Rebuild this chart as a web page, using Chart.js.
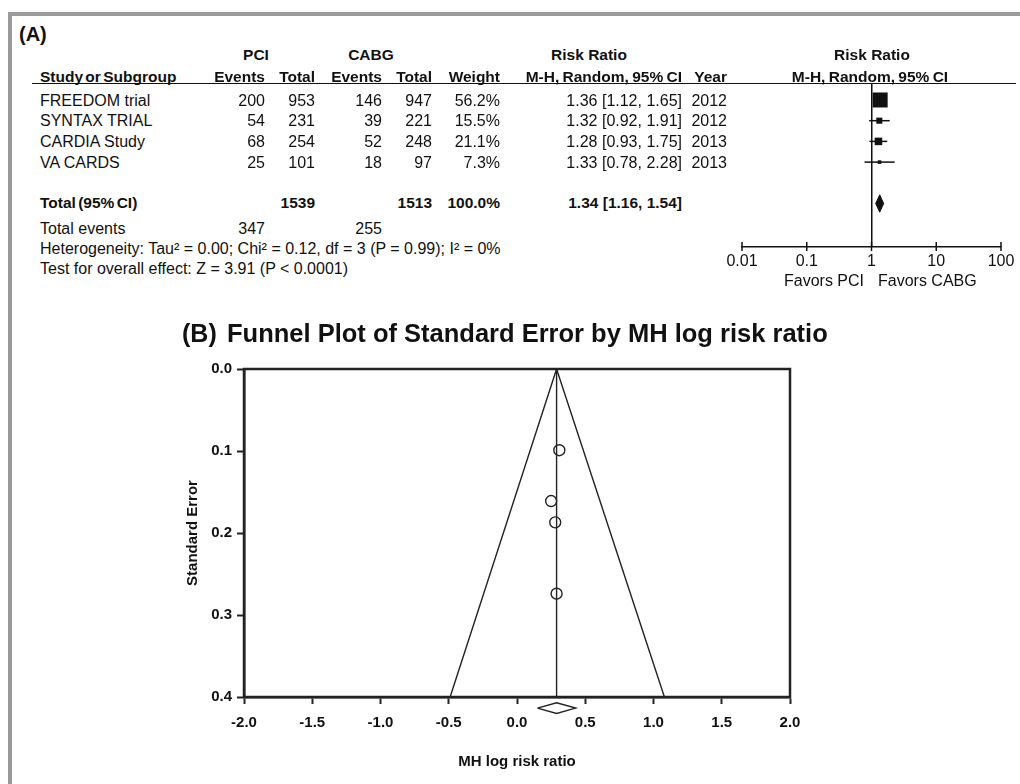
<!DOCTYPE html>
<html>
<head>
<meta charset="utf-8">
<script src="https://cdn.jsdelivr.net/npm/chart.js@4.4.1/dist/chart.umd.min.js"></script>
<style>
  body { margin: 0; background: #fff; }
  #page { position: relative; width: 1020px; height: 784px; overflow: hidden; background: #fff;
          font-family: "Liberation Sans", Arial, sans-serif; color: #111; }
  .frame { position: absolute; background: #9a9a9a; }
  .t { position: absolute; white-space: nowrap; font-size: 16px; line-height: 18px; }
  .b { font-weight: bold; }
  canvas { position: absolute; }
</style>
</head>
<body>
<div id="page">
  <div class="frame" style="left:8px; top:12px; width:1012px; height:4px;"></div>
  <div class="frame" style="left:8px; top:12px; width:4px; height:772px;"></div>
  <div style="position:absolute; left:32px; top:83px; width:984px; height:0; border-top:1.5px solid #111;"></div>
  <canvas id="forest" width="320" height="240" style="left:700px; top:60px;"></canvas>
  <canvas id="funnel" width="700" height="484" style="left:150px; top:300px;"></canvas>
</div>
<script>
// panel A: study table
const studies = ['FREEDOM trial', 'SYNTAX TRIAL', 'CARDIA Study', 'VA CARDS'];
const pciEvents = [200, 54, 68, 25];
const pciTotal = [953, 231, 254, 101];
const cabgEvents = [146, 39, 52, 18];
const cabgTotal = [947, 221, 248, 97];
const weights = [56.2, 15.5, 21.1, 7.3];
const riskRatio = [1.36, 1.32, 1.28, 1.33];
const rrLow = [1.12, 0.92, 0.93, 0.78];
const rrHigh = [1.65, 1.91, 1.75, 2.28];
const years = [2012, 2012, 2013, 2013];

const totalPci = 1539, totalCabg = 1513;
const eventsPci = 347, eventsCabg = 255;
const pooledRR = [1.34, 1.16, 1.54];   // estimate, low, high
const forestTicks = [0.01, 0.1, 1, 10, 100];

// panel B: funnel plot
const logRR = [0.31, 0.28, 0.25, 0.29];
const stdErr = [0.099, 0.187, 0.161, 0.274];
const pooledLogRR = 0.29;
const funnelBase = [-0.49, 1.08];
const pooledLogCI = [0.15, 0.43];
const seMax = 0.4;
const seTicks = [0, 0.1, 0.2, 0.3, 0.4];
const lrrTicks = [-2, -1.5, -1, -0.5, 0, 0.5, 1, 1.5, 2];

Chart.defaults.font.family = '"Liberation Sans", Arial, sans-serif';
Chart.defaults.color = '#111';

const page = document.getElementById('page');

function put(text, x, y, align, opts) {
    opts = opts || {};
    const el = document.createElement('div');
    el.className = 't' + (opts.bold ? ' b' : '');
    const size = opts.size || (opts.bold ? 15.5 : 16);
    el.style.fontSize = size + 'px';
    const lh = Math.round(size * 1.2);
    el.style.lineHeight = lh + 'px';
    el.style.top = (y - lh / 2) + 'px';
    if (opts.wordSpacing) el.style.wordSpacing = opts.wordSpacing + 'px';
    if (align === 'right') {
        el.style.right = (1020 - x) + 'px';
    } else if (align === 'center') {
        el.style.left = x + 'px';
        el.style.transform = 'translateX(-50%)';
    } else {
        el.style.left = x + 'px';
    }
    el.textContent = text;
    page.appendChild(el);
}

// row positions share the pitch of the forest chart's y scale
const rowTop = 100, rowPitch = 20.7;
const rowY = i => rowTop + i * rowPitch;

const col = { pciE: 265, pciT: 315, cabgE: 382, cabgT: 432, weight: 500, ci: 682, year: 727 };

put('(A)', 19, 34, 'left', { bold: true, size: 20 });
put('PCI', 256, 54, 'center', { bold: true });
put('CABG', 371, 54, 'center', { bold: true });
put('Risk Ratio', 589, 54, 'center', { bold: true });
put('Risk Ratio', 872, 54, 'center', { bold: true });

put('Study or Subgroup', 40, 76, 'left', { bold: true, wordSpacing: -2 });
put('Events', col.pciE, 76, 'right', { bold: true });
put('Total', col.pciT, 76, 'right', { bold: true });
put('Events', col.cabgE, 76, 'right', { bold: true });
put('Total', col.cabgT, 76, 'right', { bold: true });
put('Weight', col.weight, 76, 'right', { bold: true });
put('M-H, Random, 95% CI', col.ci, 76, 'right', { bold: true, wordSpacing: -1 });
put('Year', col.year, 76, 'right', { bold: true });
put('M-H, Random, 95% CI', 870, 76, 'center', { bold: true, wordSpacing: -1 });

const f2 = v => v.toFixed(2);
studies.forEach((s, i) => {
    const y = rowY(i);
    put(s, 40, y, 'left');
    put(String(pciEvents[i]), col.pciE, y, 'right');
    put(String(pciTotal[i]), col.pciT, y, 'right');
    put(String(cabgEvents[i]), col.cabgE, y, 'right');
    put(String(cabgTotal[i]), col.cabgT, y, 'right');
    put(weights[i].toFixed(1) + '%', col.weight, y, 'right');
    put(f2(riskRatio[i]) + ' [' + f2(rrLow[i]) + ', ' + f2(rrHigh[i]) + ']', col.ci, y, 'right');
    put(String(years[i]), col.year, y, 'right');
});

put('Total (95% CI)', 40, 202, 'left', { bold: true, wordSpacing: -2 });
put(String(totalPci), col.pciT, 202, 'right', { bold: true });
put(String(totalCabg), col.cabgT, 202, 'right', { bold: true });
put('100.0%', col.weight, 202, 'right', { bold: true });
put(f2(pooledRR[0]) + ' [' + f2(pooledRR[1]) + ', ' + f2(pooledRR[2]) + ']', col.ci, 202, 'right', { bold: true });

put('Total events', 40, 228, 'left');
put(String(eventsPci), col.pciE, 228, 'right');
put(String(eventsCabg), col.cabgE, 228, 'right');
put('Heterogeneity: Tau\u00b2 = 0.00; Chi\u00b2 = 0.12, df = 3 (P = 0.99); I\u00b2 = 0%', 40, 248, 'left');
put('Test for overall effect: Z = 3.91 (P < 0.0001)', 40, 268, 'left');

put('Favors PCI', 864, 280, 'right');
put('Favors CABG', 878, 280, 'left');

put('(B)', 182, 333, 'left', { bold: true, size: 25 });
put('Funnel Plot of Standard Error by MH log risk ratio', 227, 333, 'left', { bold: true, size: 25.5 });

// forest plot (panel A, right side)
const totalRow = studies.length + 1;
const diamondHalf = 0.42;
const side = w => 15 * Math.pow(w / Math.max(...weights), 0.7);

const forestData = [];
studies.forEach((s, i) => {
    forestData.push({
        data: [{ x: rrLow[i], y: i }, { x: rrHigh[i], y: i }],
        showLine: true, borderColor: '#111', borderWidth: 1.5, pointRadius: 0
    });
});
forestData.push({
    data: riskRatio.map((v, i) => ({ x: v, y: i })),
    pointStyle: 'rect',
    pointRadius: weights.map(w => side(w) / Math.SQRT2),
    backgroundColor: '#111', borderWidth: 0
});
forestData.push({
    data: [
        { x: pooledRR[1], y: totalRow },
        { x: pooledRR[0], y: totalRow - diamondHalf },
        { x: pooledRR[2], y: totalRow },
        { x: pooledRR[0], y: totalRow + diamondHalf },
        { x: pooledRR[1], y: totalRow }
    ],
    showLine: true, fill: 'shape', backgroundColor: '#111',
    borderColor: '#111', borderWidth: 1, pointRadius: 0
});

const forestTickMarks = {
    id: 'forestTickMarks',
    afterDraw(chart) {
        const xs = chart.scales.x, c = chart.ctx;
        c.save();
        c.strokeStyle = '#111';
        c.lineWidth = 1.5;
        xs.ticks.forEach(t => {
            const px = xs.getPixelForValue(t.value);
            c.beginPath();
            c.moveTo(px, xs.top - 5);
            c.lineTo(px, xs.top + 4);
            c.stroke();
        });
        c.restore();
    }
};

new Chart(document.getElementById('forest'), {
    type: 'scatter',
    data: { datasets: forestData },
    options: {
        responsive: false, animation: false, devicePixelRatio: 1,
        layout: { padding: { left: 42, right: 19, top: 23, bottom: 0 } },
        plugins: { legend: { display: false }, tooltip: { enabled: false } },
        scales: {
            x: {
                type: 'logarithmic', min: forestTicks[0], max: forestTicks[forestTicks.length - 1],
                afterBuildTicks: s => { s.ticks = forestTicks.map(v => ({ value: v })); },
                afterFit: s => { s.height = 53; },
                ticks: { callback: v => String(v), font: { size: 16 }, color: '#111', padding: 5, maxRotation: 0, autoSkip: false },
                grid: {
                    drawTicks: false,
                    color: c => (c.tick && c.tick.value === 1 ? '#111' : 'rgba(0,0,0,0)'),
                    lineWidth: 1.5
                },
                border: { display: true, color: '#111', width: 1.5 }
            },
            y: {
                type: 'linear', reverse: true,
                min: -0.82, max: 7.1,
                display: false
            }
        }
    },
    plugins: [forestTickMarks]
});

// funnel plot (panel B)
const plotBox = {
    id: 'plotBox',
    afterDraw(chart) {
        const a = chart.chartArea, c = chart.ctx;
        c.save();
        c.strokeStyle = '#222';
        c.lineWidth = 2.5;
        c.strokeRect(a.left, a.top, a.right - a.left, a.bottom - a.top);
        c.restore();
    }
};

const diamondTop = 0.407, diamondMid = 0.4135, diamondBottom = 0.42;

new Chart(document.getElementById('funnel'), {
    type: 'scatter',
    data: {
        datasets: [
            {
                data: [{ x: funnelBase[0], y: seMax }, { x: pooledLogRR, y: 0 }, { x: funnelBase[1], y: seMax }],
                showLine: true, borderColor: '#222', borderWidth: 1.4, pointRadius: 0
            },
            {
                data: [{ x: pooledLogRR, y: 0 }, { x: pooledLogRR, y: seMax }],
                showLine: true, borderColor: '#222', borderWidth: 1.4, pointRadius: 0
            },
            {
                data: logRR.map((v, i) => ({ x: v, y: stdErr[i] })),
                pointStyle: 'circle', pointRadius: 5.5,
                borderColor: '#222', borderWidth: 1.4, backgroundColor: 'rgba(0,0,0,0)'
            },
            {
                data: [
                    { x: pooledLogCI[0], y: diamondMid },
                    { x: pooledLogRR, y: diamondTop },
                    { x: pooledLogCI[1], y: diamondMid },
                    { x: pooledLogRR, y: diamondBottom },
                    { x: pooledLogCI[0], y: diamondMid }
                ],
                showLine: true, borderColor: '#222', borderWidth: 1.4, pointRadius: 0, clip: false
            }
        ]
    },
    options: {
        responsive: false, animation: false, devicePixelRatio: 1,
        layout: { padding: { left: 0, right: 60, top: 69, bottom: 0 } },
        plugins: { legend: { display: false }, tooltip: { enabled: false } },
        scales: {
            x: {
                type: 'linear', min: lrrTicks[0], max: lrrTicks[lrrTicks.length - 1],
                afterBuildTicks: s => { s.ticks = lrrTicks.map(v => ({ value: v })); },
                afterFit: s => { s.height = 87; },
                ticks: { callback: v => v.toFixed(1), font: { size: 15, weight: 'bold' }, color: '#111', padding: 10, maxRotation: 0, autoSkip: false },
                grid: { drawOnChartArea: false, tickLength: 7, tickWidth: 2, tickColor: '#222' },
                border: { display: true, color: '#222', width: 2.5 },
                title: { display: true, text: 'MH log risk ratio', font: { size: 15, weight: 'bold' }, color: '#111', padding: { top: 0, bottom: 13 } }
            },
            y: {
                type: 'linear', min: seTicks[0], max: seMax, reverse: true,
                afterBuildTicks: s => { s.ticks = seTicks.map(v => ({ value: v })); },
                afterFit: s => { s.width = 94; },
                ticks: { callback: v => v.toFixed(1), font: { size: 15, weight: 'bold' }, color: '#111', padding: 5, autoSkip: false },
                grid: { drawOnChartArea: false, tickLength: 7, tickWidth: 2, tickColor: '#222' },
                border: { display: true, color: '#222', width: 2.5 },
                title: { display: true, text: 'Standard Error', font: { size: 15, weight: 'bold' }, color: '#111', padding: { top: 34, bottom: 0 } }
            }
        }
    },
    plugins: [plotBox]
});
</script>
</body>
</html>
